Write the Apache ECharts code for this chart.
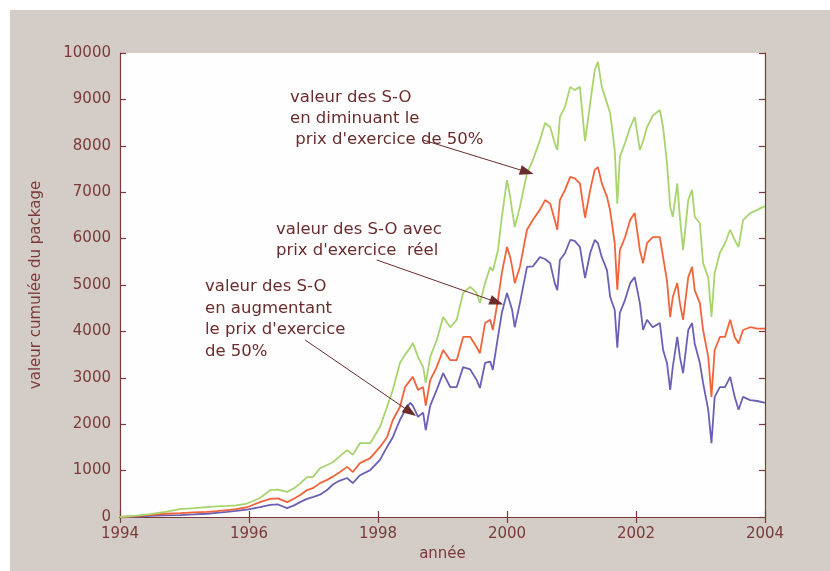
<!DOCTYPE html>
<html>
<head>
<meta charset="utf-8">
<script src="https://cdn.jsdelivr.net/npm/echarts@6/dist/echarts.min.js"></script>
<style>
html,body{margin:0;padding:0;background:#ffffff;}
#c{width:830px;height:571px;}
</style>
</head>
<body>
<div id="c"></div>
<script>
var years = [1994.00,1994.25,1994.47,1994.70,1994.93,1995.15,1995.35,1995.50,1995.66,1995.80,1995.97,1996.17,1996.33,1996.45,1996.59,1996.70,1996.79,1996.90,1996.99,1997.10,1997.21,1997.30,1997.40,1997.52,1997.61,1997.72,1997.88,1998.03,1998.14,1998.23,1998.34,1998.42,1998.50,1998.54,1998.62,1998.70,1998.74,1998.81,1998.91,1999.01,1999.12,1999.22,1999.32,1999.43,1999.53,1999.58,1999.66,1999.74,1999.78,1999.86,1999.92,2000.00,2000.05,2000.08,2000.12,2000.20,2000.31,2000.40,2000.51,2000.59,2000.67,2000.74,2000.78,2000.82,2000.90,2000.98,2001.05,2001.13,2001.21,2001.29,2001.36,2001.41,2001.47,2001.55,2001.60,2001.67,2001.71,2001.75,2001.83,2001.91,2001.98,2002.06,2002.11,2002.17,2002.26,2002.37,2002.42,2002.48,2002.53,2002.57,2002.64,2002.68,2002.73,2002.81,2002.87,2002.91,2002.99,2003.04,2003.12,2003.17,2003.22,2003.30,2003.38,2003.46,2003.53,2003.59,2003.66,2003.77,2003.88,2004.00];
var greenVals = [0,30,60,110,170,190,215,230,240,250,290,410,580,590,540,620,720,860,860,1050,1120,1180,1300,1440,1340,1590,1590,1940,2370,2740,3320,3500,3650,3750,3450,3230,2890,3450,3810,4310,4090,4250,4830,4960,4830,4610,5040,5390,5300,5750,6470,7260,6900,6600,6250,6680,7410,7690,8120,8490,8400,8060,7910,8620,8840,9270,9200,9270,8100,8920,9630,9810,9270,8920,8700,7910,6750,7760,8060,8400,8620,7910,8100,8400,8650,8770,8400,7630,6680,6470,7190,6470,5750,6830,7050,6470,6330,5470,5170,4310,5260,5690,5900,6190,5970,5820,6400,6550,6620,6700];
var redVals = [0,20,45,70,85,100,110,125,150,170,210,320,390,400,320,400,470,580,620,730,800,870,960,1080,970,1160,1270,1510,1720,2090,2370,2800,2950,3020,2740,2800,2400,2950,3230,3600,3380,3380,3880,3880,3660,3530,4180,4250,4030,4680,5260,5820,5600,5390,5040,5390,6190,6400,6620,6830,6750,6400,6190,6830,7050,7330,7300,7190,6450,7050,7480,7540,7190,6900,6600,5900,4900,5750,6030,6400,6550,5750,5470,5900,6030,6030,5600,5100,4310,4740,5040,4610,4250,5170,5390,4890,4610,4030,3450,2590,3600,3880,3880,4250,3880,3740,4030,4090,4060,4060];
var blueVals = [0,10,25,35,40,55,70,90,110,130,160,215,260,270,190,250,320,390,430,480,580,700,780,840,730,900,1010,1230,1510,1720,2090,2300,2460,2400,2160,2250,1870,2400,2740,3100,2800,2800,3230,3180,2950,2780,3320,3350,3170,3880,4400,4830,4600,4460,4090,4610,5390,5400,5600,5560,5470,5040,4890,5540,5690,5970,5950,5820,5150,5690,5970,5900,5600,5320,4740,4460,3650,4400,4680,5040,5170,4610,4030,4250,4090,4180,3600,3320,2740,3230,3880,3450,3100,4030,4180,3740,3320,2890,2310,1590,2590,2800,2800,3020,2590,2310,2590,2520,2500,2460];
var xTicks = [1994,1996,1998,2000,2002,2004];
var yTicks = [0,1000,2000,3000,4000,5000,6000,7000,8000,9000,10000];

function pairs(v){ return years.map(function(t,i){ return [t, v[i]]; }); }

var axisCol = '#7a3a3a';
var txtCol = '#6a2c2c';
var font = '"DejaVu Sans", Verdana, sans-serif';

var chart = echarts.init(document.getElementById('c'), null, {renderer:'canvas'});
var option = {
  backgroundColor: '#ffffff',
  animation: false,
  graphic: [
    {type:'rect', z:-10, shape:{x:10,y:10,width:820,height:561}, style:{fill:'#d4cdc7'}},
    {type:'text', left:290, top:87, style:{text:'valeur des S-O\nen diminuant le\n prix d\'exercice de 50%', fill:txtCol, font:'16.5px '+font, lineHeight:21}},
    {type:'text', left:276, top:219, style:{text:'valeur des S-O avec\nprix d\'exercice  réel', fill:txtCol, font:'16.5px '+font, lineHeight:21}},
    {type:'text', left:205, top:276, style:{text:'valeur des S-O\nen augmentant\nle prix d\'exercice\nde 50%', fill:txtCol, font:'16.5px '+font, lineHeight:21.5}}
  ],
  grid: {left:120, right:65, top:53, bottom:54, show:true, backgroundColor:'#fefefe', borderWidth:0},
  xAxis: [{
    type:'value', min:1994, max:2004, interval:2,
    name:'année', nameLocation:'middle', nameGap:30,
    nameTextStyle:{color:axisCol, fontSize:15, fontFamily:font},
    axisLine:{show:true, lineStyle:{color:axisCol, width:1.2}},
    axisTick:{show:true, inside:true, length:6, lineStyle:{color:axisCol, width:1.2}},
    axisLabel:{color:axisCol, fontSize:15, fontFamily:font, margin:10, formatter:function(v){return String(v);}},
    splitLine:{show:false}
  },{
    type:'value', position:'top', min:1994, max:2004, interval:2,
    axisLine:{show:true, lineStyle:{color:axisCol, width:1.2}},
    axisTick:{show:true, inside:true, length:6, lineStyle:{color:axisCol, width:1.2}},
    axisLabel:{show:false}, splitLine:{show:false}
  }],
  yAxis: [{
    type:'value', min:0, max:10000, interval:1000,
    name:'valeur cumulée du package', nameLocation:'middle', nameGap:76, nameRotate:90,
    nameTextStyle:{color:axisCol, fontSize:15, fontFamily:font},
    axisLine:{show:true, lineStyle:{color:axisCol, width:1.2}},
    axisTick:{show:true, inside:true, length:6, lineStyle:{color:axisCol, width:1.2}},
    axisLabel:{color:axisCol, fontSize:15, fontFamily:font, margin:9, formatter:function(v){return String(v);}},
    splitLine:{show:false}
  },{
    type:'value', position:'right', min:0, max:10000, interval:1000,
    axisLine:{show:true, lineStyle:{color:axisCol, width:1.2}},
    axisTick:{show:true, inside:true, length:6, lineStyle:{color:axisCol, width:1.2}},
    axisLabel:{show:false}, splitLine:{show:false}
  }],
  series: [
    {type:'line', name:'augmentant', data:pairs(blueVals), showSymbol:false, lineStyle:{color:'#6a60b4', width:1.8}, z:3},
    {type:'line', name:'réel', data:pairs(redVals), showSymbol:false, lineStyle:{color:'#f0643c', width:1.8}, z:3},
    {type:'line', name:'diminuant', data:pairs(greenVals), showSymbol:false, lineStyle:{color:'#a8d46e', width:1.8}, z:3,
      markLine:{
        silent:true, symbol:['none','triangle'], symbolSize:[10,14],
        lineStyle:{color:'#6a2c2c', width:1, type:'solid'}, label:{show:false},
        data:[
          [{coord:[1998.70,8125]},{coord:[2000.31,7435]}],
          [{coord:[1997.98,5540]},{coord:[1999.84,4630]}],
          [{coord:[1996.87,3815]},{coord:[1998.50,2263]}]
        ]
      }
    }
  ]
};
chart.setOption(option);
</script>
</body>
</html>
